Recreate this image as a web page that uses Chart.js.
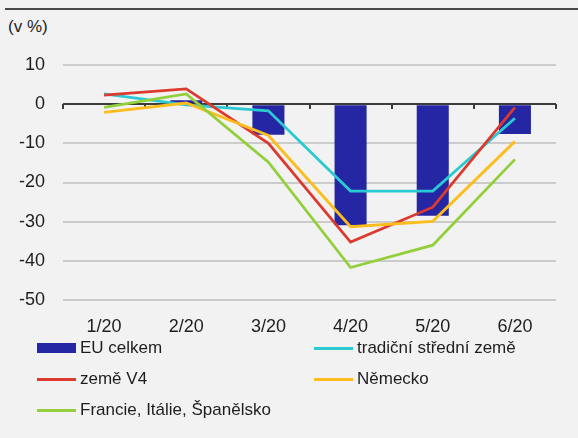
<!DOCTYPE html>
<html>
<head>
<meta charset="utf-8">
<script src="https://cdn.jsdelivr.net/npm/chart.js@4/dist/chart.umd.min.js"></script>
<style>
  html, body { margin: 0; padding: 0; background: #f2f2f2; }
  #wrap { position: relative; width: 578px; height: 438px; overflow: hidden;
          font-family: "Liberation Sans", Arial, sans-serif; color: #1e1e1e; }
  #rule { position: absolute; left: 5px; right: 0; top: 8px; height: 2px; background: #4a4a4a; }
  #unit { position: absolute; left: 8px; top: 17px; font-size: 17px; line-height: 20px; }
  #chart { position: absolute; left: 0; top: 0; }
  #legend { position: absolute; left: 37px; top: 338px; width: 541px;
            display: grid; grid-template-columns: 277px 264px; row-gap: 11px;
            font-size: 17px; }
  .item { display: flex; align-items: center; height: 20px; white-space: nowrap; }
  .sw { width: 39px; margin-right: 4px; flex: none; }
</style>
</head>
<body>
<div id="wrap">
  <div id="rule"></div>
  <div id="unit">(v %)</div>
  <canvas id="chart" width="578" height="340"></canvas>
  <div id="legend"></div>
</div>
<script>
// monthly change, %
const months = ['1/20', '2/20', '3/20', '4/20', '5/20', '6/20'];
const euTotal = [-0.3, 1.0, -7.8, -30.9, -28.5, -7.6];
const traditionalCore = [2.6, -0.2, -1.7, -22.2, -22.2, -3.6];
const v4Countries = [2.3, 3.9, -10.0, -35.2, -26.3, -0.8];
const germany = [-2.1, 0.3, -8.0, -31.3, -29.9, -9.5];
const franceItalySpain = [-0.8, 2.6, -14.8, -41.7, -36.0, -14.1];
const yTicks = [10, 0, -10, -20, -30, -40, -50];

const FONT = { family: '"Liberation Sans", Arial, sans-serif', size: 18 };

function line(label, data, color, order) {
  return {
    type: 'line', label, data, order,
    borderColor: color, backgroundColor: color,
    borderWidth: 2.8, pointRadius: 0, tension: 0, fill: false
  };
}

// zero axis with small ticks between the months, drawn over the bars
const zeroAxis = {
  id: 'zeroAxis',
  afterDatasetDraw(chart, args) {
    if (args.index !== 0) return;
    const { ctx, chartArea, scales: { y } } = chart;
    const y0 = Math.round(y.getPixelForValue(0));
    const step = (chartArea.right - chartArea.left) / months.length;
    ctx.save();
    ctx.strokeStyle = '#3c3c3c';
    ctx.lineWidth = 2;
    ctx.beginPath();
    ctx.moveTo(chartArea.left, y0);
    ctx.lineTo(chartArea.right, y0);
    for (let i = 0; i <= months.length; i++) {
      const px = Math.round(chartArea.left + i * step);
      ctx.moveTo(px, y0);
      ctx.lineTo(px, y0 + 5);
    }
    ctx.stroke();
    ctx.restore();
  }
};

const chart = new Chart(document.getElementById('chart'), {
  type: 'bar',
  data: {
    labels: months,
    datasets: [
      { type: 'bar', label: 'EU celkem', data: euTotal, order: 10,
        backgroundColor: '#2526a3', borderWidth: 0,
        barPercentage: 0.78, categoryPercentage: 0.5 },
      line('tradiční střední země', traditionalCore, '#2bcad3', 4),
      line('země V4', v4Countries, '#dc3a2e', 3),
      line('Německo', germany, '#fdbd1c', 2),
      line('Francie, Itálie, Španělsko', franceItalySpain, '#93cf3b', 1)
    ]
  },
  options: {
    responsive: false,
    devicePixelRatio: 1,
    animation: false,
    layout: { padding: { top: 65, right: 22, left: 0, bottom: 0 } },
    plugins: { legend: { display: false }, tooltip: { enabled: false } },
    scales: {
      x: {
        grid: { display: false },
        border: { display: false },
        ticks: { font: FONT, color: '#1e1e1e', padding: 8, maxRotation: 0 },
        afterFit(scale) { scale.height = 40; }
      },
      y: {
        min: -50, max: 10,
        afterBuildTicks(scale) { scale.ticks = yTicks.map(v => ({ value: v })); },
        grid: {
          drawTicks: false,
          color: ctx => ctx.tick && ctx.tick.value === 0 ? 'rgba(0,0,0,0)' : '#cbcbcb',
          lineWidth: 2
        },
        border: { display: false },
        ticks: { font: FONT, color: '#1e1e1e', padding: 18 },
        afterFit(scale) { scale.width = 63; }
      }
    }
  },
  plugins: [zeroAxis]
});

// two-column legend built from the datasets
const legend = document.getElementById('legend');
chart.data.datasets.forEach(ds => {
  const item = document.createElement('div');
  item.className = 'item';
  const sw = document.createElement('span');
  sw.className = 'sw';
  sw.style.background = ds.type === 'bar' ? ds.backgroundColor : ds.borderColor;
  sw.style.height = ds.type === 'bar' ? '10px' : '3px';
  const txt = document.createElement('span');
  txt.textContent = ds.label;
  item.appendChild(sw);
  item.appendChild(txt);
  legend.appendChild(item);
});
</script>
</body>
</html>
